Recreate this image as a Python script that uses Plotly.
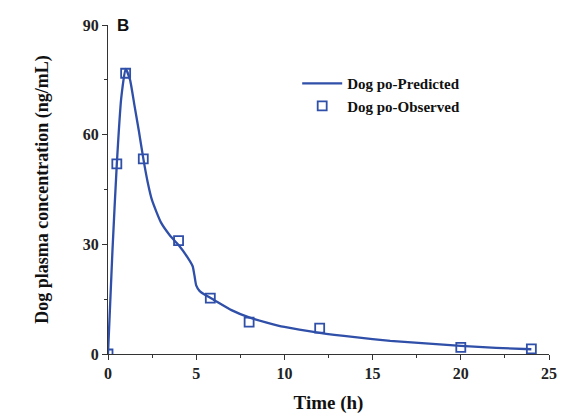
import plotly.graph_objects as go

# Predicted curve
pred_t = [0, 0.25, 0.5, 0.75, 1.0, 1.25, 1.5, 1.75, 2.0, 2.25, 2.5, 3.0, 3.5, 4.0, 4.5, 4.8, 4.9, 5.0,
          5.2, 5.5, 6.0, 7.0, 8.0, 9, 10, 12, 14, 16, 18, 20, 22, 24]
pred_c = [0, 28, 52, 70, 78, 75, 68, 61, 53.5, 47, 42, 36, 32.5, 29.8, 26.5, 24, 21.5, 18.8,
          17.2, 16.2, 14.8, 12, 10, 8.6, 7.4, 5.8, 4.6, 3.6, 2.9, 2.2, 1.7, 1.3]

# Observed
obs_t = [0, 0.5, 1, 2, 4, 5.8, 8, 12, 20, 24]
obs_c = [0, 52, 76.8, 53.4, 31, 15.3, 8.7, 7.1, 1.8, 1.4]

blue = "#2f4fa8"
serif = "Liberation Serif"

fig = go.Figure()
fig.add_trace(go.Scatter(x=pred_t, y=pred_c, mode="lines", name="Dog po-Predicted",
                         line=dict(color=blue, width=2.3, shape="spline", smoothing=0.5)))
fig.add_trace(go.Scatter(x=obs_t, y=obs_c, mode="markers", name="Dog po-Observed",
                         marker=dict(symbol="square-open", size=9, color=blue,
                                     line=dict(width=1.8, color=blue))))

axis_common = dict(showline=True, linecolor="#333", linewidth=1.2, showgrid=False, zeroline=False,
                   ticks="outside", ticklen=5, tickwidth=1.2, tickcolor="#333", automargin=False,
                   tickfont=dict(family=serif, size=16, color="#222", weight="bold"))

fig.update_layout(
    width=575, height=414,
    margin=dict(l=108, r=26, t=25, b=60),
    paper_bgcolor="white", plot_bgcolor="white",
    xaxis=dict(range=[0, 25], tickvals=[0, 5, 10, 15, 20, 25],
               minor=dict(ticks="outside", ticklen=3, tickwidth=1.2, tickcolor="#333", dtick=2.5, tick0=0),
               title=dict(text="Time (h)", font=dict(family=serif, size=19, color="#111", weight="bold"), standoff=17),
               **axis_common),
    yaxis=dict(range=[0, 90], tickvals=[0, 30, 60, 90],
               minor=dict(ticks="outside", ticklen=3, tickwidth=1.2, tickcolor="#333", dtick=15, tick0=0),
               title=dict(text="Dog plasma concentration (ng/mL)", font=dict(family=serif, size=18, color="#111", weight="bold"), standoff=29),
               **axis_common),
    legend=dict(x=0.429, y=0.872, xanchor="left", yanchor="top", bgcolor="rgba(0,0,0,0)",
                font=dict(family=serif, size=15, color="#111", weight="bold"), tracegroupgap=0, itemwidth=40),
    showlegend=True,
)
fig.add_annotation(text="<b>B</b>", xref="paper", yref="paper", x=0.015, y=1.0, xanchor="left", yanchor="middle",
                   showarrow=False, font=dict(family="Liberation Sans", size=17, color="#111"))

fig.write_html("out.html")
